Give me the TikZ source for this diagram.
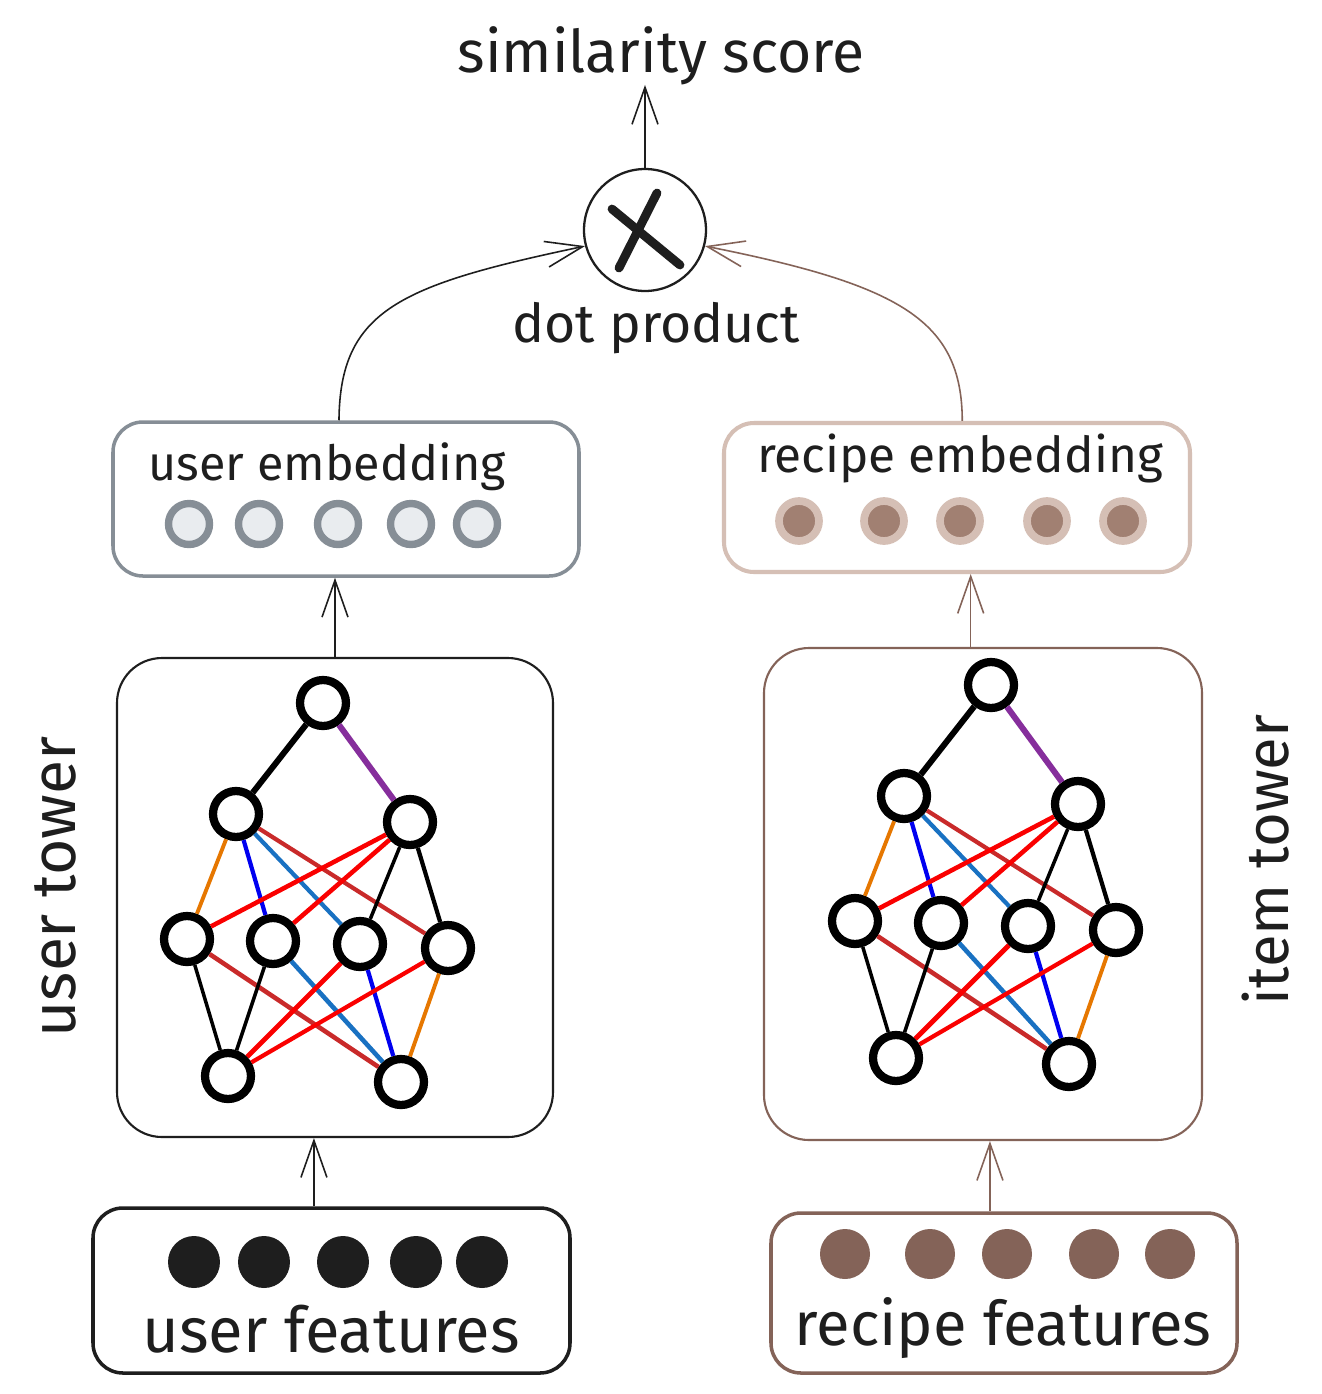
\documentclass[tikz,border=0pt]{standalone}
\usepackage{fontspec}
\setmainfont{Fira Sans}
\usetikzlibrary{arrows.meta,fit}
\definecolor{ink}{HTML}{1E1E1E}
\definecolor{slate}{HTML}{868E96}
\definecolor{slatefill}{HTML}{E9ECEF}
\definecolor{cocoa}{HTML}{846358}
\definecolor{sand}{HTML}{D5BFB5}
\definecolor{mocha}{HTML}{A18072}
\definecolor{grape}{HTML}{862E9C}
\definecolor{amber}{HTML}{E67700}
\definecolor{steel}{HTML}{1971C2}
\definecolor{crimson}{HTML}{C92A2A}
\definecolor{hotred}{HTML}{FA0000}
\definecolor{pureblue}{HTML}{0000F0}

\begin{document}
\begin{tikzpicture}[x=0.02cm, y=-0.02cm]
    \tikzset{words/.style={font=\fontsize{29}{34}\selectfont, text=ink, inner sep=0},
        unit/.style={circle, draw=black, fill=white, line width=4.7pt, minimum size=0.92cm, inner sep=0},
        flow/.style={-{Straight Barb[length=7.4mm,width=5.2mm]}, line width=0.9pt},
        panel/.style={rounded corners=0.6cm, inner sep=0, line width=2pt},
        tower/.style={rounded corners=0.9cm, inner sep=0, line width=1.2pt},
        uedot/.style={circle, fill=slatefill, draw=slate, line width=4.2pt, minimum size=0.82cm, inner sep=0},
        redot/.style={circle, fill=mocha, draw=sand, line width=4.4pt, minimum size=0.8cm, inner sep=0},
        ufdot/.style={circle, fill=ink, minimum size=1.04cm, inner sep=0},
        rfdot/.style={circle, fill=cocoa, minimum size=1cm, inner sep=0}}
    \path[use as bounding box, fill=white] (0,0) rectangle (1322,1394);

    % boxes
    \node[panel, draw=ink, fit={(93,1208) (570,1373)}] (ufeat) {};
    \node[panel, draw=cocoa, fit={(771,1213) (1237,1373)}] (rfeat) {};
    \node[tower, draw=ink, fit={(117,658) (553,1137)}] (utower) {};
    \node[tower, draw=cocoa, fit={(764,648) (1202,1140)}] (rtower) {};
    \node[panel, draw=slate, fit={(113,422) (579,576)}] (uemb) {};
    \node[panel, draw=sand, line width=2.3pt, fit={(724,423) (1190,572)}] (remb) {};
    \node[circle, draw=ink, line width=1.3pt, minimum size=2.44cm] (mult) at (645,230) {};

    % texts
    \node[words, anchor=base, font=\fontsize{33.5}{38}\selectfont] (simtxt) at (661,72) {similarity score};
    \node[words, anchor=base, font=\fontsize{30.5}{36}\selectfont] (dottxt) at (656,342) {dot product};
    \node[words, anchor=base, font=\fontsize{27.6}{33}\selectfont] (uembtxt) at (327,480) {user embedding};
    \node[words, anchor=base, font=\fontsize{28.2}{33}\selectfont] (rembtxt) at (960,472) {recipe embedding};
    \node[words, anchor=base, font=\fontsize{36}{42}\selectfont] (ufeattxt) at (331,1352) {user features};
    \node[words, anchor=base, font=\fontsize{35}{42}\selectfont] (rfeattxt) at (1003,1345) {recipe features};
    \node[words, anchor=base, rotate=90, font=\fontsize{35.5}{42}\selectfont] (utowertxt) at (75,887) {user tower};
    \node[words, anchor=base, rotate=90, font=\fontsize{34}{40}\selectfont] (rtowertxt) at (1288,860) {item tower};

    % vectors
    \foreach \x [count=\i] in {189,259,338,411,477}
        \node[uedot] (ue\i) at (\x,524) {};
    \foreach \x [count=\i] in {799,884,960,1047,1123}
        \node[redot] (re\i) at (\x,521) {};
    \foreach \x [count=\i] in {194,264,343,416,482}
        \node[ufdot] (uf\i) at (\x,1262) {};
    \foreach \x [count=\i] in {845,930,1007,1094,1170}
        \node[rfdot] (rf\i) at (\x,1254) {};

    % the two networks
    \foreach \side/\dx/\dy in {u/0/0, r/668/-18} {
        \begin{scope}[shift={(\dx,\dy)}, name prefix=\side-]
            \node[unit] (t) at (323,703) {};
            \node[unit] (m1) at (236,814) {};
            \node[unit] (m2) at (410,822) {};
            \node[unit] (h1) at (187,939) {};
            \node[unit] (h2) at (273,941) {};
            \node[unit] (h3) at (360,944) {};
            \node[unit] (h4) at (448,948) {};
            \node[unit] (b1) at (228,1076) {};
            \node[unit] (b2) at (401,1082) {};
            \foreach \a/\b/\c/\w in {t/m1/black/3.4, t/m2/grape/3.4,
                m1/h1/amber/2.2, m1/h2/pureblue/2.4, m1/h3/steel/2.4, m1/h4/crimson/2.4,
                m2/h1/hotred/2.6, m2/h2/hotred/2.6, m2/h3/black/2, m2/h4/black/2.4,
                h1/b1/black/2, h1/b2/crimson/2.6, h2/b1/black/2, h2/b2/steel/2.6,
                h3/b1/hotred/2.8, h3/b2/pureblue/2.4, h4/b1/hotred/2.4, h4/b2/amber/2.2}
                \draw[\c, line width=\w pt] (\a) -- (\b);
        \end{scope}
    }

    % arrows
    \draw[flow, ink] ([xshift=-10pt]ufeat.north) -- ([xshift=-10pt]ufeat.north |- utower.south);
    \draw[flow, cocoa] ([xshift=-8pt]rfeat.north) -- ([xshift=-8pt]rfeat.north |- rtower.south);
    \draw[flow, ink] (utower.north) -- (utower.north |- uemb.south);
    \draw[flow, cocoa] ([xshift=-7pt]rtower.north) -- ([xshift=-7pt]rtower.north |- remb.south);
    \draw[flow, ink] ([xshift=-4pt]uemb.north) .. controls (340,310) and (400,285) .. (mult.195);
    \draw[flow, cocoa] ([xshift=3pt]remb.north) .. controls (962,320) and (900,285) .. (mult.345);
    \draw[flow, ink] (mult.north) -- (mult.north |- simtxt.south);
    \draw[ink, line width=5pt, line cap=round] ([shift={(12,-37)}]mult.center) -- ([shift={(-26,38)}]mult.center);
    \draw[ink, line width=5pt, line cap=round] ([shift={(-33,-21)}]mult.center) -- ([shift={(35,35)}]mult.center);
\end{tikzpicture}
\end{document}
